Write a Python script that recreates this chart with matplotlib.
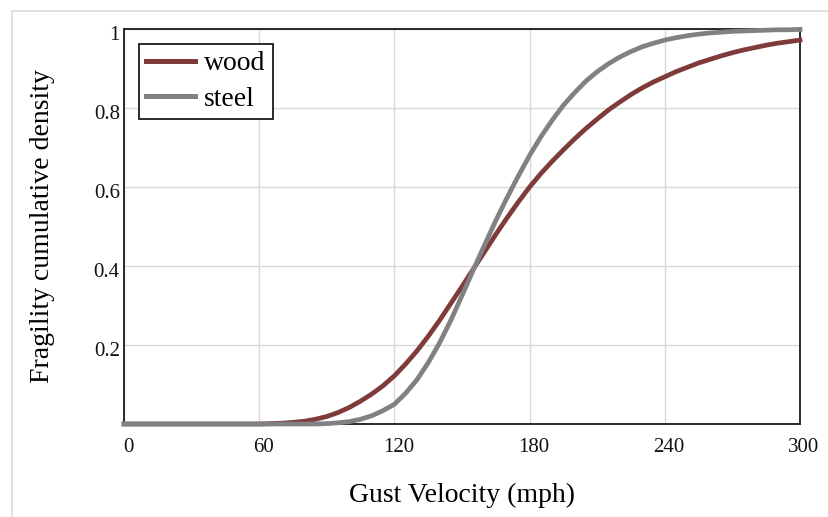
import matplotlib

matplotlib.use("Agg")
import matplotlib.pyplot as plt
import matplotlib.transforms as mtransforms
from matplotlib.lines import Line2D

plt.rcParams["font.family"] = ["Liberation Serif", "DejaVu Serif"]

# gust velocity (mph) and fragility values
velocity = [0, 60, 70, 75, 80, 85, 90, 95, 100, 105, 110, 115, 120, 125, 130, 135, 140,
            145, 150, 155, 160, 165, 170, 175, 180, 185, 190, 195, 200, 205, 210, 215,
            220, 225, 230, 235, 240, 245, 250, 255, 260, 265, 270, 275, 280, 285, 290,
            295, 300]
wood = [0.0, 0.0, 0.002, 0.004, 0.007, 0.012, 0.019, 0.029, 0.042, 0.058, 0.076, 0.097,
        0.122, 0.152, 0.185, 0.222, 0.262, 0.305, 0.348, 0.392, 0.436, 0.480, 0.522,
        0.562, 0.600, 0.634, 0.665, 0.694, 0.722, 0.748, 0.772, 0.795, 0.815, 0.834,
        0.851, 0.866, 0.879, 0.892, 0.903, 0.914, 0.923, 0.932, 0.940, 0.947, 0.953,
        0.959, 0.964, 0.968, 0.972]
steel = [0.0, 0.0, 0.0, 0.0, 0.0, 0.0, 0.001, 0.003, 0.006, 0.012, 0.021, 0.034, 0.050,
         0.078, 0.112, 0.155, 0.205, 0.262, 0.325, 0.390, 0.453, 0.515, 0.573, 0.628,
         0.680, 0.727, 0.769, 0.807, 0.839, 0.868, 0.892, 0.912, 0.929, 0.943, 0.955,
         0.964, 0.972, 0.978, 0.983, 0.987, 0.990, 0.992, 0.994, 0.995, 0.996, 0.997,
         0.998, 0.998, 0.999]

x_ticks = [0, 60, 120, 180, 240, 300]
y_ticks = [0.2, 0.4, 0.6, 0.8, 1.0]
y_tick_labels = ["0.2", "0.4", "0.6", "0.8", "1"]

WOOD_COLOR = "#7f3a3a"
STEEL_COLOR = "#818083"

fig = plt.figure(figsize=(8.29, 5.17), dpi=100)
ax = fig.add_axes([124 / 829, 1 - 424 / 517, 676 / 829, 395 / 517])

ax.plot(velocity, wood, color=WOOD_COLOR, linewidth=3.4, label="wood", clip_on=False, zorder=4)
ax.plot(velocity, steel, color=STEEL_COLOR, linewidth=3.4, label="steel", clip_on=False, zorder=4)

ax.set_xlim(0, 300)
ax.set_ylim(0, 1)
ax.set_xticks(x_ticks)
ax.set_yticks(y_ticks, y_tick_labels)
ax.tick_params(length=0, labelsize=15, colors="#111111")
ax.tick_params(axis="x", pad=10)
ax.tick_params(axis="y", pad=3)
ax.grid(color="#d9d9d9", linewidth=1.0)
ax.set_axisbelow(True)
for spine in ax.spines.values():
    spine.set_color("#1a1a1a")
    spine.set_linewidth(1.3)

# labels sit a little right of / below their grid lines in the reference
dx = mtransforms.ScaledTranslation(4 / 100, 0, fig.dpi_scale_trans)
for lab in ax.get_xticklabels():
    lab.set_transform(lab.get_transform() + dx)
dy = mtransforms.ScaledTranslation(0, -4 / 100, fig.dpi_scale_trans)
for lab in ax.get_yticklabels():
    lab.set_transform(lab.get_transform() + dy)

ax.set_xlabel("Gust Velocity (mph)", fontsize=20, labelpad=19)
ax.set_ylabel("Fragility cumulative density", fontsize=20)
ax.yaxis.set_label_coords(-0.102, 0.5)

leg = ax.legend(loc="upper left", bbox_to_anchor=(15 / 676, 1 - 15 / 395), borderaxespad=0,
                fontsize=20, handlelength=1.75, handletextpad=0.35, borderpad=0.25,
                labelspacing=0.35, fancybox=False, framealpha=1)
leg.get_frame().set_edgecolor("#1a1a1a")
leg.get_frame().set_linewidth(1.3)
for line in leg.get_lines():
    line.set_linewidth(3.6)

# thin outer frame of the page
fig.add_artist(Line2D([12 / 829, 12 / 829], [0, 1 - 11 / 517], color="#dcdcdc", linewidth=1.2))
fig.add_artist(Line2D([12 / 829, 1], [1 - 11 / 517, 1 - 11 / 517], color="#dcdcdc", linewidth=1.2))

fig.savefig("out.png", dpi=100)
plt.close(fig)
